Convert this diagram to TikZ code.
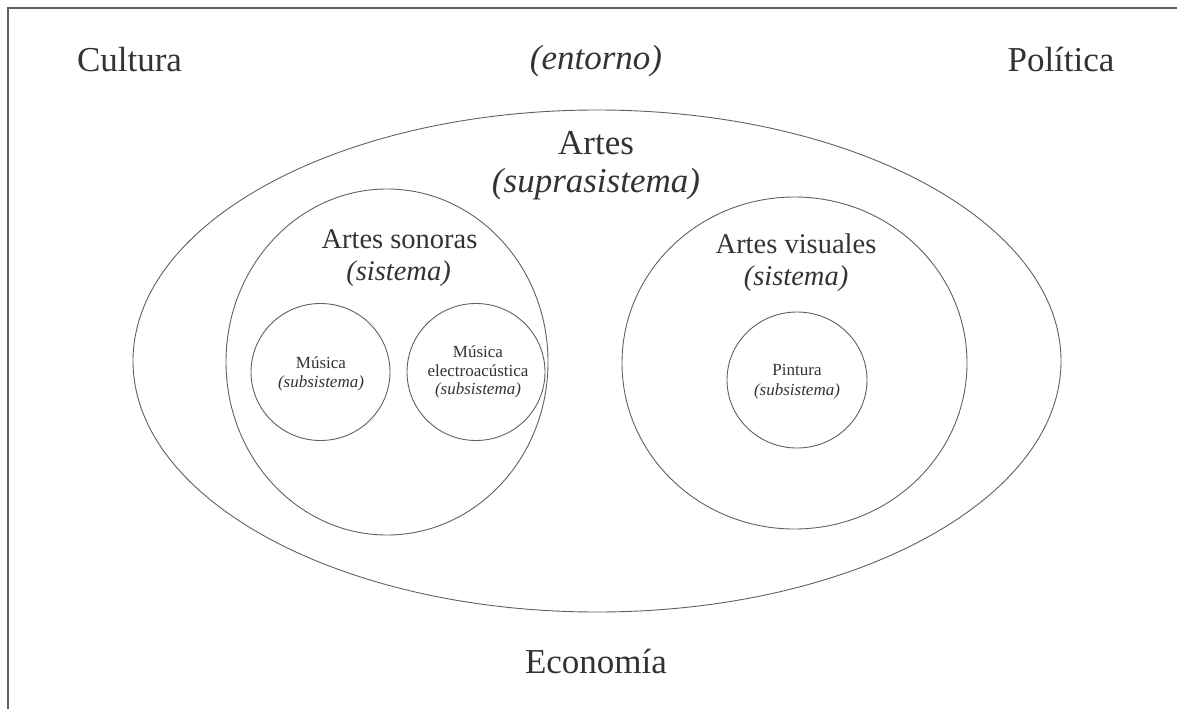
\documentclass[tikz,border=0pt]{standalone}
\usepackage{fontspec}
\setmainfont{Liberation Serif}
\usetikzlibrary{shapes.geometric}
\definecolor{ink}{HTML}{333333}
\definecolor{rim}{HTML}{606060}
\begin{document}
\begin{tikzpicture}[x=1pt,y=-1pt,
  region/.style={draw=rim,line width=0.9pt,ellipse,inner sep=0pt},
  lbl/.style={text=ink,inner sep=0pt,anchor=base},
  big/.style={lbl,font=\fontsize{35}{38}\selectfont},
  mid/.style={lbl,font=\fontsize{28.5}{32}\selectfont},
  small/.style={lbl,font=\fontsize{17}{19}\selectfont}]
\useasboundingbox (0,0) rectangle (1177,709);
% frame lines
\draw[rim,line width=1.2pt] (1177,8) -- (8,8) -- (8,709);
% environment
\node[big] (cultura) at (129.5,71) {Cultura};
\node[big] (entorno) at (596,70) {\itshape (entorno)};
\node[big] (politica) at (1061,71) {Política};
\node[big] (economia) at (596,673) {Economía};
% suprasystem
\node[region,minimum width=928pt,minimum height=502pt] (artes) at (597,361) {};
\node[big] (artesT) at (596,154) {Artes};
\node[big] (artesS) at (596,192) {\itshape (suprasistema)};
% systems
\node[region,minimum width=322pt,minimum height=346pt] (sonoras) at (387,362) {};
\node[mid] (sonorasT) at (399.5,248) {Artes sonoras};
\node[mid] (sonorasS) at (398.5,280) {\itshape (sistema)};
\node[region,minimum width=345pt,minimum height=332pt] (visuales) at (794.5,363) {};
\node[mid] (visualesT) at (796,253) {Artes visuales};
\node[mid] (visualesS) at (796,285) {\itshape (sistema)};
% subsystems
\node[region,minimum width=139pt,minimum height=137pt] (musica) at (320.5,372) {};
\node[small] (musicaT) at (321,368) {Música};
\node[small] (musicaS) at (321,387) {\itshape (subsistema)};
\node[region,minimum width=138pt,minimum height=137pt] (electro) at (476,372) {};
\node[small] (electroT) at (478,357) {Música};
\node[small] (electroM) at (478,376) {electroacústica};
\node[small] (electroS) at (478,394) {\itshape (subsistema)};
\node[region,minimum width=140pt,minimum height=136pt] (pintura) at (797,380) {};
\node[small] (pinturaT) at (797,375) {Pintura};
\node[small] (pinturaS) at (797,395) {\itshape (subsistema)};
\end{tikzpicture}
\end{document}
